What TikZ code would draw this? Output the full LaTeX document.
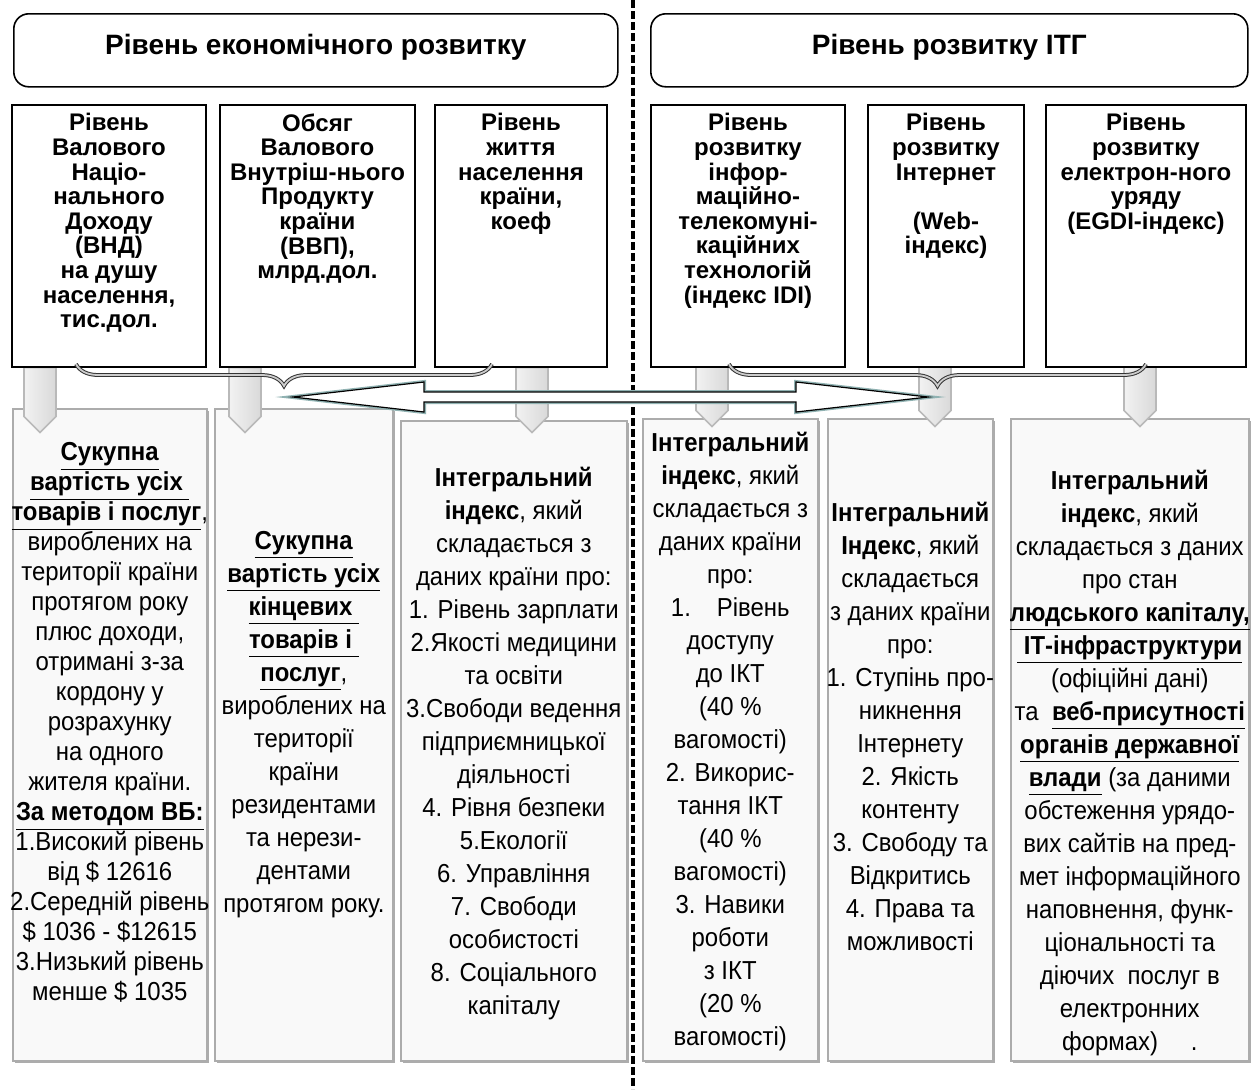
\documentclass[tikz,border=0pt]{standalone}
\usepackage{fontspec}
\setmainfont{Liberation Sans}
\newfontfamily\narrowfont[FakeStretch=0.92]{Liberation Sans}
\usetikzlibrary{calc,shapes.arrows,shadows,decorations.pathreplacing}
\newcommand{\ulb}[1]{\underline{\textbf{#1}}}

\begin{document}
\begin{tikzpicture}[x=0.5pt,y=-0.5pt,
  header/.style={rectangle,rounded corners=7.5pt,draw=black,line width=0.8pt,
    anchor=north west,minimum height=36.5pt,text depth=5.7pt,
    font=\fontsize{14}{16}\selectfont\bfseries},
  measure/.style={rectangle,draw=black,line width=1pt,fill=white,
    anchor=north west,minimum height=131pt},
  measuretext/.style={anchor=north,align=center,inner sep=0pt,
    font=\fontsize{12}{12.3}\selectfont\bfseries},
  chevron/.style={single arrow,shape border rotate=270,single arrow head extend=0pt,
    single arrow tip angle=90,minimum height=32.5pt,minimum width=16pt,inner sep=0pt,
    left color=gray!10,right color=gray!30,draw=gray!55,line width=0.8pt},
  detail/.style={rectangle,anchor=north west,inner sep=0pt,
    fill=gray!5,draw=gray!65,line width=0.8pt,
    drop shadow={shadow xshift=1.2pt,shadow yshift=-1.2pt,fill=gray!65,opacity=1}},
  detailtext/.style={align=center,inner sep=0pt,
    font=\narrowfont\fontsize{13}{16.5}\selectfont},
  group/.style={decorate,decoration={brace,mirror,amplitude=11pt},
    draw=black!80,double=gray!40,double distance=0.9pt,line width=0.5pt},
  link/.style={fill=white,draw=black,line width=0.6pt,
    preaction={draw=gray!55!teal!60,line width=2pt}},
  divider/.style={line width=2pt,dash pattern=on 4pt off 1.5pt}]
\useasboundingbox (0,0) rectangle (1252,1089);

\node [detail,minimum width=97pt,minimum height=326pt] (gnidef) at (12,408) {};
\node [detail,minimum width=89pt,minimum height=326pt] (gdpdef) at (214,408) {};
\node [detail,minimum width=113pt,minimum height=320pt] (lifedef) at (400,420) {};
\node [detail,minimum width=87.5pt,minimum height=321pt] (ididef) at (642,418) {};
\node [detail,minimum width=82.5pt,minimum height=321pt] (webdef) at (827,418) {};
\node [detail,minimum width=119pt,minimum height=321pt] (egdidef) at (1010,418) {};

\node [detailtext,font=\narrowfont\fontsize{13}{15}\selectfont] (gnidesc) at ($(gnidef.center)+(0,-12)$)
  {\ulb{Сукупна}\\ \ulb{вартість усіх\ }\\ \ulb{товарів і послуг},\\ вироблених на\\ території країни\\
   протягом року\\ плюс доходи,\\ отримані з-за\\ кордону у\\ розрахунку\\ на одного\\ жителя країни.\\
   \ulb{За методом ВБ:}\\ 1.Високий рівень\\ від \$ 12616\\ 2.Середній рівень\\ \$ 1036 - \$12615\\
   3.Низький рівень\\ менше \$ 1035};
\node [detailtext] (gdpdesc) at ($(gdpdef.center)+(0,-10)$)
  {\ulb{Сукупна}\\ \ulb{вартість усіх}\\ \ulb{кінцевих\ }\\ \ulb{товарів і\ }\\ \ulb{послуг},\\
   вироблених на\\ території\\ країни\\ резидентами\\ та нерези-\\ дентами\\ протягом року.};
\node [detailtext] (lifedesc) at ($(lifedef.center)+(0,3)$)
  {\textbf{Інтегральний}\\ \textbf{індекс}, який\\ складається з\\ даних країни про:\\ 1. Рівень зарплати\\
   2.Якості медицини\\ та освіти\\ 3.Свободи ведення\\ підприємницької\\ діяльності\\ 4. Рівня безпеки\\
   5.Екології\\ 6. Управління\\ 7. Свободи\\ особистості\\ 8. Соціального\\ капіталу};
\node [detailtext] (idedesc) at ($(ididef.center)+(0,2)$)
  {\textbf{Інтегральний}\\ \textbf{індекс}, який\\ складається з\\ даних країни\\ про:\\ 1.\quad Рівень\\
   доступу\\ до ІКТ\\ (40 \%\\ вагомості)\\ 2. Викорис-\\ тання ІКТ\\ (40 \%\\ вагомості)\\ 3. Навики\\
   роботи\\ з ІКТ\\ (20 \%\\ вагомості)};
\node [detailtext] (webdesc) at ($(webdef.center)+(0,-13)$)
  {\textbf{Інтегральний}\\ \textbf{Індекс}, який\\ складається\\ з даних країни\\ про:\\ 1. Ступінь про-\\
   никнення\\ Інтернету\\ 2. Якість\\ контенту\\ 3. Свободу та\\ Відкритись\\ 4. Права та\\ можливості};
\node [detailtext] (egdidesc) at ($(egdidef.center)+(0,23)$)
  {\textbf{Інтегральний}\\ \textbf{індекс}, який\\ складається з даних\\ про стан\\ \ulb{людського капіталу,}\\
   \ulb{\ ІТ-інфраструктури}\\ (офіційні дані)\\ та\ \ \ulb{веб-присутності}\\ \ulb{органів державної}\\
   \ulb{влади} (за даними\\ обстеження урядо-\\ вих сайтів на пред-\\ мет інформаційного\\
   наповнення, функ-\\ ціональності та\\ діючих\ \ послуг в\\ електронних\\ формах)\quad\ .};

\node [chevron] (gnidown) at (40,392) {};
\node [chevron] (gdpdown) at (245,392) {};
\node [chevron] (lifedown) at (532,392) {};
\node [chevron] (ididown) at (712,386) {};
\node [chevron] (webdown) at (935,386) {};
\node [chevron] (egdidown) at (1140,386) {};

\node [measure,minimum width=97pt] (gni) at (11,104) {};
\node [measure,minimum width=97.5pt] (gdp) at (219,104) {};
\node [measure,minimum width=86pt] (life) at (434,104) {};
\node [measure,minimum width=97pt] (idi) at (650,104) {};
\node [measure,minimum width=78pt] (web) at (867,104) {};
\node [measure,minimum width=100pt] (egdi) at (1045,104) {};
\node [measuretext] (gnitext) at ($(gni.north)+(0,9)$)
  {Рівень\\Валового\\Націо-\\нального\\Доходу\\(ВНД)\\на душу\\населення,\\тис.дол.};
\node [measuretext] (gdptext) at ($(gdp.north)+(0,9)$)
  {Обсяг\\Валового\\Внутріш-нього\\Продукту\\країни\\(ВВП),\\млрд.дол.};
\node [measuretext] (lifetext) at ($(life.north)+(0,9)$)
  {Рівень\\життя\\населення\\країни,\\коеф};
\node [measuretext] (iditext) at ($(idi.north)+(0,9)$)
  {Рівень\\розвитку\\інфор-\\маційно-\\телекомуні-\\каційних\\технологій\\(індекс IDI)};
\node [measuretext] (webtext) at ($(web.north)+(0,9)$)
  {Рівень\\розвитку\\Інтернет\\~\\(Web-\\індекс)};
\node [measuretext] (egditext) at ($(egdi.north)+(0,9)$)
  {Рівень\\розвитку\\електрон-ного\\уряду\\(EGDI-індекс)};

\node [header,minimum width=302pt] (econ) at (13,13) {Рівень економічного розвитку};
\node [header,minimum width=298.5pt] (itg) at (650,13) {Рівень розвитку ІТГ};

\coordinate (econleft) at (76,364);
\coordinate (econright) at (492,364);
\coordinate (itleft) at (729,364);
\coordinate (itright) at (1146,364);
\draw [group] (econleft) -- (econright);
\draw [group] (itleft) -- (itright);

\coordinate (divtop) at (633,0);
\coordinate (divbot) at (633,1089);
\draw [divider] (divtop) -- (divbot);

\coordinate (econtip) at (293,397);
\coordinate (ittip) at (928,397);
\draw [link] (econtip) -- ++(131,-15) -- ++(0,10) -- ($(ittip)+(-132,-5)$) -- ++(0,-10) -- (ittip)
  -- ++(-132,15) -- ++(0,-10) -- ($(econtip)+(131,5)$) -- ++(0,10) -- cycle;

\end{tikzpicture}
\end{document}
